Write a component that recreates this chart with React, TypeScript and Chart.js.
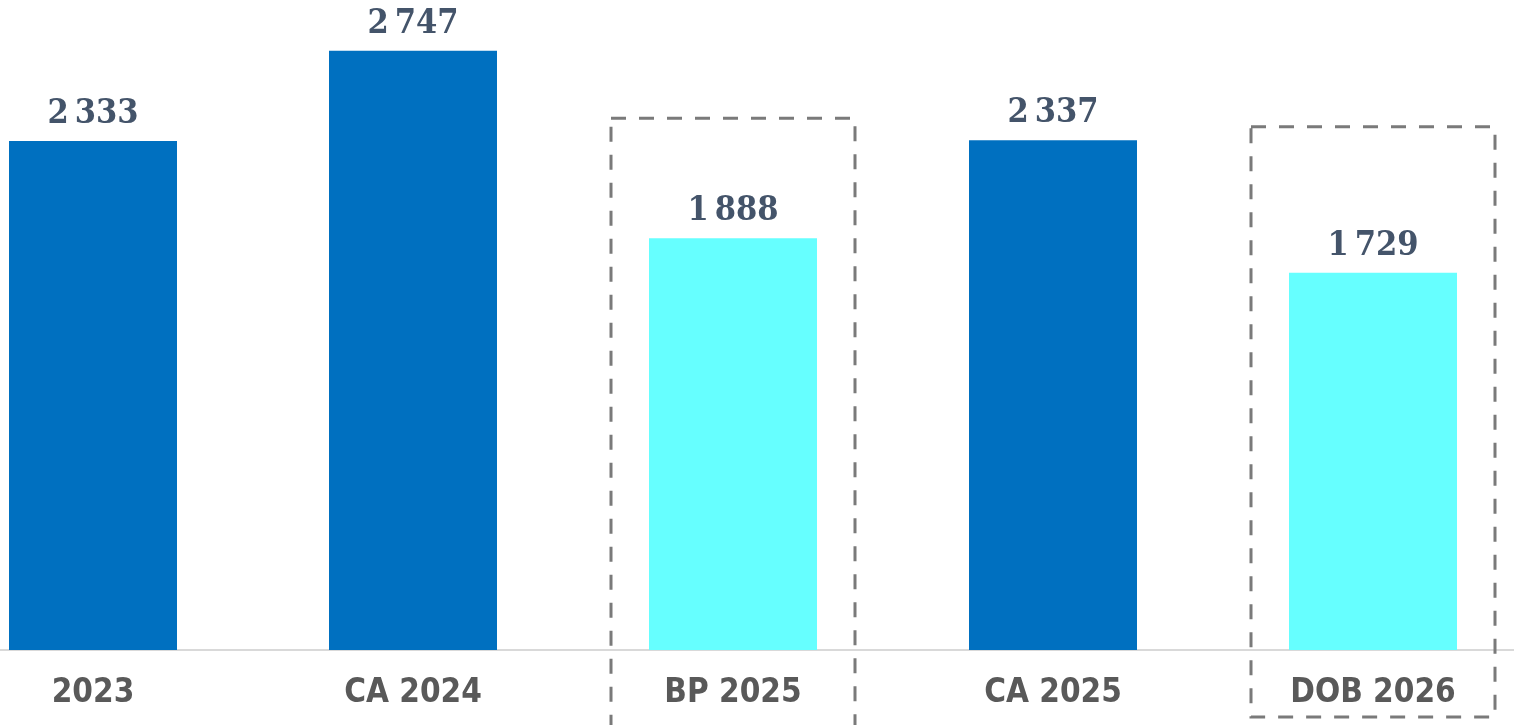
import React, { useEffect, useRef } from "react";
import { Chart, registerables } from "chart.js";

Chart.register(...registerables);

const categories = ["2023", "CA 2024", "BP 2025", "CA 2025", "DOB 2026"];
const values = [2333, 2747, 1888, 2337, 1729];
const barColors = ["#0070C0", "#0070C0", "#66FFFF", "#0070C0", "#66FFFF"];
const dashedCategories = ["BP 2025", "DOB 2026"];
const boxTopAboveBar = [120, 146];
const boxBottomBelowAxis = [90, 67];
const boxHalfWidth = [122, 122];

const fmt = (v: number) => {
  const s = String(v);
  return s.length > 3 ? s.slice(0, s.length - 3) + "\u2009" + s.slice(-3) : s;
};

const overlayPlugin = {
  id: "overlay",
  afterDatasetsDraw(chart: any) {
    const ctx = chart.ctx;
    const meta = chart.getDatasetMeta(0);
    ctx.save();
    ctx.font = "bold 34px 'DejaVu Serif Condensed', 'DejaVu Serif', serif";
    ctx.fillStyle = "#44546A";
    ctx.textAlign = "center";
    ctx.textBaseline = "alphabetic";
    meta.data.forEach((bar: any, i: number) => {
      ctx.fillText(fmt(values[i]), bar.x, bar.y - 18);
    });
    ctx.strokeStyle = "#7A7A7A";
    ctx.lineWidth = 3;
    ctx.setLineDash([15, 13]);
    dashedCategories.forEach((c, k) => {
      const i = categories.indexOf(c);
      const bar = meta.data[i];
      const hw = boxHalfWidth[k];
      const top = bar.y - boxTopAboveBar[k];
      const bottom = chart.chartArea.bottom + boxBottomBelowAxis[k];
      ctx.strokeRect(bar.x - hw, top, 2 * hw, bottom - top);
    });
    ctx.restore();
  },
};

export default function App() {
  const ref = useRef<HTMLCanvasElement | null>(null);
  useEffect(() => {
    if (!ref.current) return;
    const chart = new Chart(ref.current, {
      type: "bar",
      data: {
        labels: categories,
        datasets: [
          {
            data: values,
            backgroundColor: barColors,
            borderWidth: 0,
            categoryPercentage: 1,
            barPercentage: 0.525,
          },
        ],
      },
      options: {
        animation: false,
        responsive: true,
        maintainAspectRatio: false,
        layout: { padding: { top: 0, bottom: 0, left: 0, right: 0 } },
        plugins: { legend: { display: false }, tooltip: { enabled: false } },
        scales: {
          x: {
            offset: true,
            grid: { display: false, drawTicks: false },
            border: { display: true, color: "#D9D9D9", width: 2 },
            afterFit: (scale: any) => {
              scale.height = 75;
            },
            ticks: {
              color: "#595959",
              padding: 24,
              font: { family: "'DejaVu Sans Condensed', 'DejaVu Sans', sans-serif", size: 33, weight: "bold" },
            },
          },
          y: {
            display: false,
            min: 0,
            max: 2980,
          },
        },
      },
      plugins: [overlayPlugin],
    });
    return () => chart.destroy();
  }, []);
  return (
    <div style={{ position: "fixed", left: 0, top: 0, width: 1514, height: 725, overflow: "hidden", background: "#fff" }}>
      <div style={{ position: "absolute", left: -67, top: 0, width: 1600, height: 725 }}>
        <canvas ref={ref} />
      </div>
    </div>
  );
}
